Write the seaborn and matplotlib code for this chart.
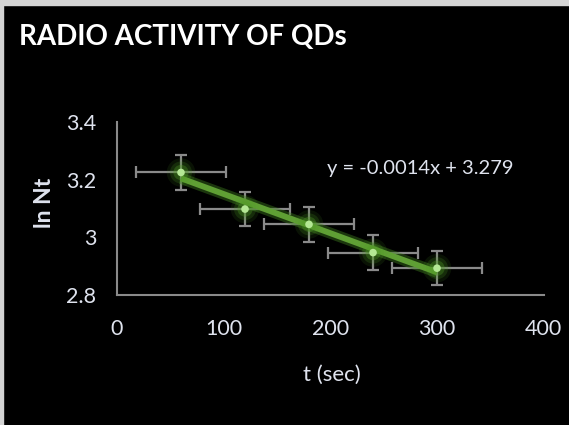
import numpy as np
import pandas as pd
import seaborn as sns
import matplotlib
matplotlib.use('Agg')
import matplotlib.pyplot as plt
from matplotlib.patches import Rectangle

# data
t_sec = [60, 120, 180, 240, 300]
ln_nt = [3.225, 3.098, 3.045, 2.947, 2.893]
t_err = [42, 42, 42, 42, 42]
ln_err = [0.06, 0.06, 0.06, 0.06, 0.06]
x_ticks = [0, 100, 200, 300, 400]
y_ticks = [2.8, 3.0, 3.2, 3.4]
y_tick_labels = ['2.8', '3', '3.2', '3.4']
title = 'RADIO ACTIVITY OF QDs'
equation = 'y = -0.0014x + 3.279'

df = pd.DataFrame({'t': t_sec, 'ln': ln_nt})

sns.set_style('dark')
plt.rcParams['font.family'] = ['Lato', 'DejaVu Sans']

txt = '#dfe3ee'
fig = plt.figure(figsize=(5.69, 4.25), dpi=100, facecolor='black')
# light frame on top / left edge like the screenshot
fig.patches.append(Rectangle((0, 0.989), 1, 0.011, transform=fig.transFigure,
                             color='#d4d4d4', zorder=0))
fig.patches.append(Rectangle((0, 0), 0.006, 1, transform=fig.transFigure,
                             color='#d4d4d4', zorder=0))

ax = fig.add_axes([0.2056, 0.3059, 0.750, 0.407])
ax.set_facecolor('black')

ax.errorbar(t_sec, ln_nt, xerr=t_err, yerr=ln_err, fmt='none',
            ecolor='#8a8a8a', elinewidth=1.6, capsize=4, capthick=1.6, zorder=2)

# glow under the trendline
sns.regplot(data=df, x='t', y='ln', ci=None, scatter=False, ax=ax,
            line_kws=dict(color='#3d7a1e', lw=8, alpha=0.45, solid_capstyle='butt', zorder=3))
sns.regplot(data=df, x='t', y='ln', ci=None, scatter=False, ax=ax,
            line_kws=dict(color='#5f9f34', lw=4.2, solid_capstyle='butt', zorder=4))

# glowing markers
for s, a in [(420, 0.12), (250, 0.2), (120, 0.35)]:
    sns.scatterplot(data=df, x='t', y='ln', s=s, color='#4f9a26', alpha=a,
                    edgecolor='none', ax=ax, zorder=5, legend=False)
sns.scatterplot(data=df, x='t', y='ln', s=30, color='#b4e894',
                edgecolor='none', ax=ax, zorder=6, legend=False)

ax.set_xlim(0, 400)
ax.set_ylim(2.8, 3.4)
ax.set_xticks(x_ticks)
ax.set_xticklabels([str(v) for v in x_ticks])
ax.set_yticks(y_ticks)
ax.set_yticklabels(y_tick_labels)
ax.grid(False)
ax.tick_params(length=0, colors=txt, labelsize=15.5)
ax.tick_params(axis='x', pad=17)
ax.tick_params(axis='y', pad=15)
for side in ['top', 'right']:
    ax.spines[side].set_visible(False)
for side in ['left', 'bottom']:
    ax.spines[side].set_visible(True)
    ax.spines[side].set_color('#8a8a8a')
    ax.spines[side].set_linewidth(1.5)

ax.set_xlabel('t (sec)', color=txt, fontsize=16, va='center')
ax.xaxis.set_label_coords(0.503, -0.462)
ax.set_ylabel('ln Nt', color=txt, fontsize=16.5, fontweight='bold', va='center')
ax.yaxis.set_label_coords(-0.169, 0.532)

ax.text(197, 3.238, equation, color=txt, fontsize=14.5, va='center', ha='left')

fig.text(0.034, 0.912, title, color='white', fontsize=20, fontweight='bold',
         va='center', ha='left')

fig.savefig('out.png', dpi=100, facecolor='black')
